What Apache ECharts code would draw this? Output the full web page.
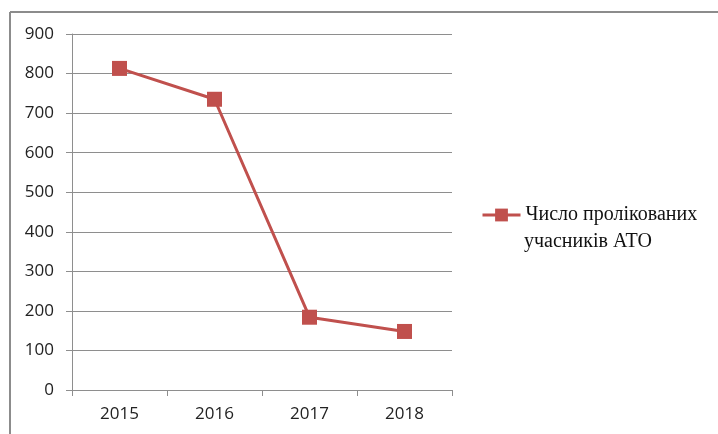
<!DOCTYPE html>
<html>
<head>
<meta charset="utf-8">
<script src="https://cdn.jsdelivr.net/npm/echarts@6/dist/echarts.min.js"></script>
<style>
html,body{margin:0;padding:0;background:#fff;}
#chart{width:718px;height:434px;}
</style>
</head>
<body>
<div id="chart"></div>
<script>
const categories = ['2015', '2016', '2017', '2018'];
const values = [813, 735, 184, 148];
const yTicks = { min: 0, max: 900, interval: 100 };
const seriesName = 'Число пролікованих учасників АТО';
const legendLine1 = 'Число пролікованих';
const legendLine2 = 'учасників АТО';

const chart = echarts.init(document.getElementById('chart'), null, { renderer: 'canvas' });
const red = '#C0504D';
const gridColor = '#8e8e8e';
chart.setOption({
  animation: false,
  backgroundColor: '#ffffff',
  grid: { left: 72, right: 266, top: 34, bottom: 44, containLabel: false },
  xAxis: {
    type: 'category',
    data: categories,
    boundaryGap: true,
    axisLine: { show: true, lineStyle: { color: gridColor, width: 1 } },
    axisTick: { show: true, length: 6, alignWithLabel: false, lineStyle: { color: gridColor } },
    axisLabel: { color: '#222', fontFamily: 'Open Sans', fontSize: 17, margin: 16 }
  },
  yAxis: {
    type: 'value',
    min: yTicks.min, max: yTicks.max, interval: yTicks.interval,
    axisLine: { show: true, lineStyle: { color: gridColor, width: 1 } },
    axisTick: { show: true, length: 6, lineStyle: { color: gridColor } },
    splitLine: { show: true, lineStyle: { color: gridColor, width: 1 } },
    axisLabel: { color: '#222', fontFamily: 'Open Sans', fontSize: 17, margin: 18 }
  },
  legend: {
    show: true,
    left: 481, top: 205,
    padding: 0,
    itemWidth: 38, itemHeight: 16,
    data: [seriesName],
    lineStyle: { width: 3 },
    formatter: function () { return legendLine1; },
    textStyle: { fontFamily: 'Liberation Serif', fontSize: 20, color: '#111' }
  },
  graphic: [
    { type: 'text', left: 524, top: 232, style: { text: legendLine2, font: '20px "Liberation Serif"', fill: '#111' } },
    { type: 'line', shape: { x1: 10, y1: 12, x2: 718, y2: 12 }, style: { stroke: '#8c8c8c', lineWidth: 2 } },
    { type: 'line', shape: { x1: 10, y1: 12, x2: 10, y2: 434 }, style: { stroke: '#8c8c8c', lineWidth: 2 } }
  ],
  series: [{
    name: seriesName,
    type: 'line',
    data: values,
    symbol: 'rect',
    symbolSize: 15,
    lineStyle: { color: red, width: 3 },
    itemStyle: { color: red },
    emphasis: { disabled: true }
  }]
});
</script>
</body>
</html>
